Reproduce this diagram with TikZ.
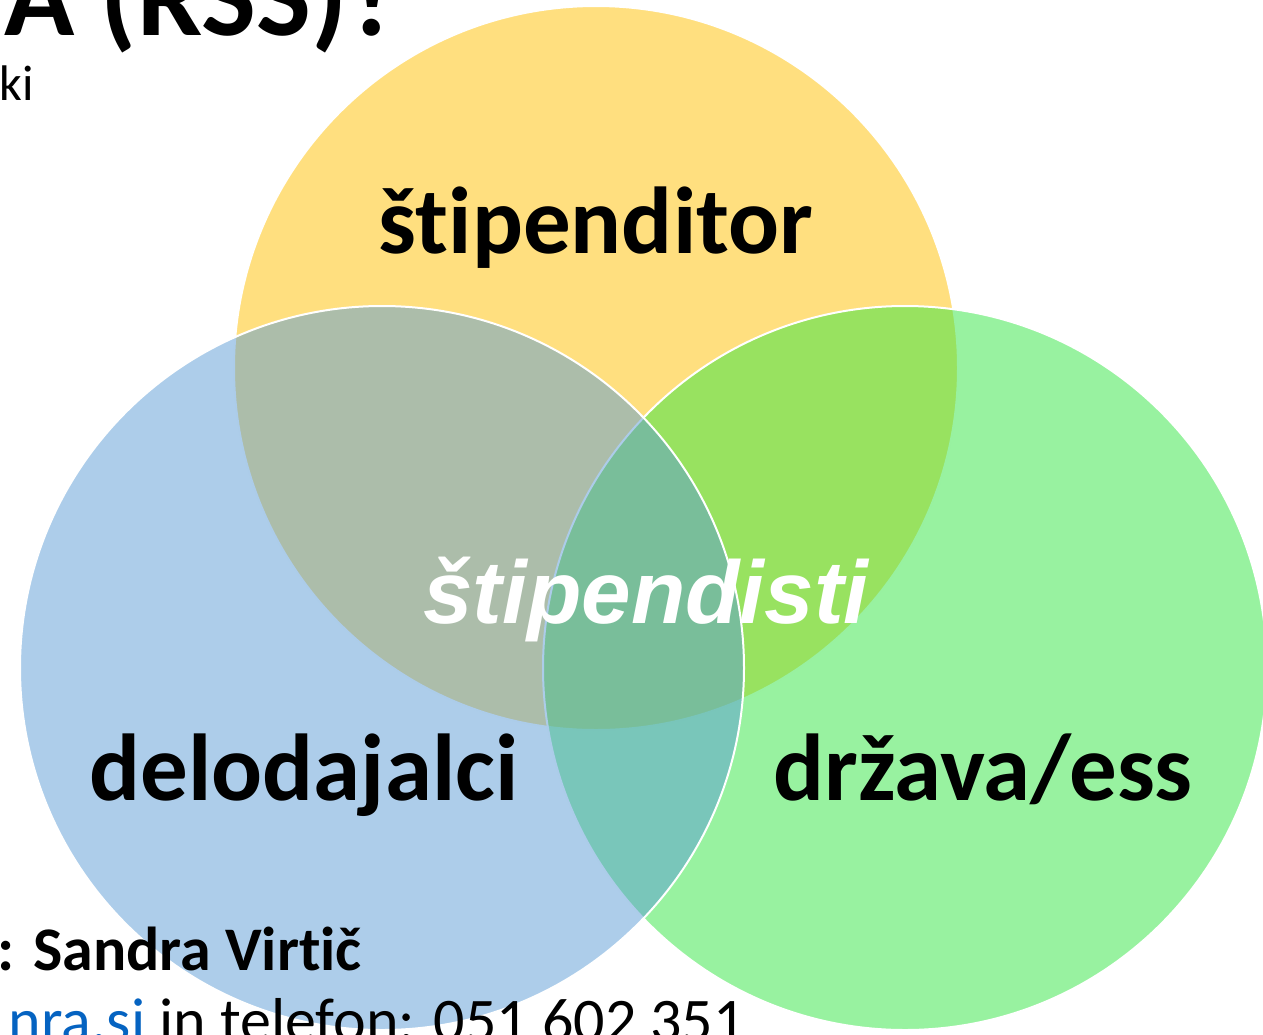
\documentclass[tikz,border=0pt]{standalone}
\usepackage{fontspec}
\setmainfont{Carlito}[RawFeature = {-liga;-clig;-calt;-dlig}]
\newfontfamily\arialfont{Liberation Sans}
\usepackage{tikz}

\definecolor{rumena}{RGB}{255,192,0}
\definecolor{modra}{RGB}{91,155,213}
\definecolor{zelena}{RGB}{50,229,66}
\definecolor{povezava}{RGB}{5,99,193}

\begin{document}
\begin{tikzpicture} [x = 1pt, y = -1pt,
    krog/.style = {draw = white, line width = 2pt, fill opacity = 0.5},
    napis/.style = {inner sep = 0, font = \fontsize{95}{114}\selectfont\bfseries},
    vrstica/.style = {inner sep = 0, anchor = base east}]
    \useasboundingbox (0, 0) rectangle (1263, 1034);
    \clip (0, 0) rectangle (1263, 1034);

    \path[krog, fill = rumena] (596, 368) circle[radius = 362pt];
    \path[krog, fill = zelena] (905, 668) circle[radius = 362pt];
    \path[krog, fill = modra] (382, 668) circle[radius = 362pt];

    \node[napis, anchor = base] (stipenditor) at (596, 253) {štipenditor};
    \node[napis, anchor = base] (delodajalci) at (304, 800) {delodajalci};
    \node[napis, anchor = base] (drzava) at (983, 800) {država/ess};
    \node[inner sep = 0, anchor = base, text = white,
        font = \arialfont\fontsize{89}{100}\selectfont\bfseries\itshape]
        (stipendisti) at (646, 623) {štipendisti};

    % ostanek prosojnice
    \node[vrstica, font = \fontsize{116}{130}\selectfont\bfseries]
        (naslov) at (401, 35) {A (RSS)?};
    \node[vrstica, font = \fontsize{50}{60}\selectfont] (podnaslov) at (34, 100) {ki};
    \node[vrstica, font = \fontsize{62}{74}\selectfont\bfseries]
        (kontakt) at (362, 970) {: Sandra Virtič};
    \node[vrstica, font = \fontsize{62}{74}\selectfont] (telefon) at (745, 1041)
        {\textcolor{povezava}{nra.si} in telefon: 051 602 351};
\end{tikzpicture}
\end{document}
